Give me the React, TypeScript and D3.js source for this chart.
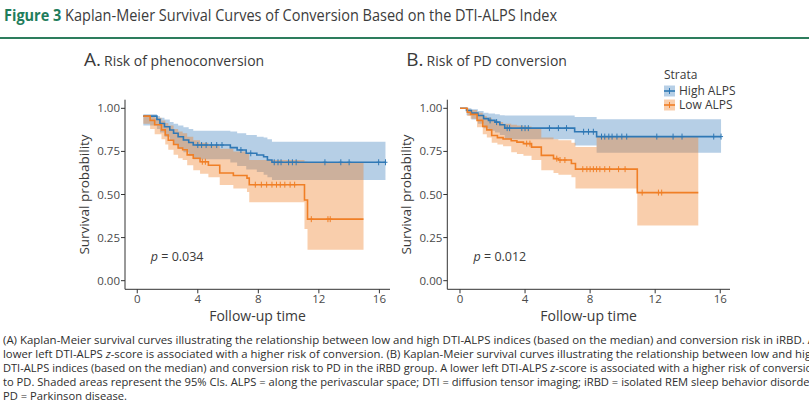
import * as d3 from "d3";

// ---- shared axis ticks ----
const ticksX = [0, 4, 8, 12, 16];
const ticksY = [0, 0.25, 0.5, 0.75, 1];
const tickYLabels = ["0.00", "0.25", "0.50", "0.75", "1.00"];

// ---- panel A: phenoconversion ----
const aHighTime = [0.4, 1.3, 1.5, 1.8, 2.15, 2.4, 2.7, 3.05, 3.4, 3.7, 6.15, 6.6, 7.2, 7.9, 8.35, 8.6, 8.9];
const aHighSurv = [0.955, 0.935, 0.912, 0.893, 0.874, 0.855, 0.835, 0.816, 0.802, 0.787, 0.772, 0.758, 0.739, 0.729, 0.719, 0.7, 0.687];
const aHighLower = [0.9, 0.88, 0.86, 0.835, 0.81, 0.79, 0.765, 0.745, 0.725, 0.705, 0.685, 0.665, 0.645, 0.63, 0.615, 0.6, 0.584];
const aHighUpper = [0.965, 0.955, 0.945, 0.935, 0.92, 0.91, 0.9, 0.89, 0.88, 0.87, 0.865, 0.855, 0.845, 0.835, 0.83, 0.82, 0.806];
const aHighEnd = 16.4;
const aHighCensor = [4.0, 4.25, 4.55, 4.9, 5.25, 5.6, 6.85, 7.5, 9.05, 9.3, 9.5, 10.0, 10.25, 10.5, 12.4, 13.45, 14.0, 15.95, 16.4];

const aLowTime = [0.4, 0.85, 1.15, 1.6, 1.85, 2.05, 2.4, 2.7, 3.0, 3.3, 3.7, 4.15, 4.7, 5.45, 6.35, 7.25, 7.4, 11.05, 11.25];
const aLowSurv = [0.955, 0.93, 0.905, 0.875, 0.845, 0.815, 0.79, 0.77, 0.76, 0.73, 0.71, 0.69, 0.67, 0.625, 0.61, 0.595, 0.557, 0.468, 0.357];
const aLowLower = [0.91, 0.88, 0.85, 0.82, 0.79, 0.76, 0.73, 0.71, 0.7, 0.67, 0.64, 0.62, 0.6, 0.555, 0.535, 0.515, 0.455, 0.3, 0.18];
const aLowUpper = [0.96, 0.955, 0.945, 0.93, 0.915, 0.9, 0.88, 0.865, 0.855, 0.835, 0.815, 0.8, 0.785, 0.765, 0.75, 0.735, 0.7, 0.69, 0.685];
const aLowEnd = 14.95;
const aLowCensor = [4.3, 4.5, 7.8, 8.2, 8.55, 8.9, 9.2, 9.45, 9.75, 10.1, 10.4, 11.5, 12.6, 12.75];

// ---- panel B: PD conversion ----
const bHighTime = [0, 0.4, 0.7, 1.1, 1.45, 1.75, 2.15, 2.45, 2.75, 7.05, 8.4];
const bHighSurv = [1.0, 0.987, 0.972, 0.958, 0.94, 0.93, 0.92, 0.905, 0.885, 0.864, 0.836];
const bHighLower = [1.0, 0.96, 0.935, 0.91, 0.885, 0.87, 0.86, 0.845, 0.82, 0.785, 0.742];
const bHighUpper = [1.0, 1.0, 0.995, 0.985, 0.975, 0.97, 0.965, 0.96, 0.958, 0.95, 0.937];
const bHighEnd = 16.05;
const bHighCensor = [1.85, 2.25, 2.9, 3.05, 3.8, 4.0, 4.2, 5.5, 6.05, 6.55, 7.6, 7.9, 8.2, 8.7, 8.9, 9.15, 9.35, 9.65, 9.95, 10.25, 12.1, 13.1, 13.65, 15.6, 16.05];

const bLowTime = [0, 0.45, 0.65, 1.05, 1.4, 1.65, 1.95, 2.3, 2.65, 3.15, 3.5, 3.9, 4.4, 5.0, 5.75, 6.05, 6.85, 7.1, 8.4, 10.9];
const bLowSurv = [1.0, 0.977, 0.965, 0.93, 0.895, 0.875, 0.842, 0.83, 0.822, 0.812, 0.804, 0.795, 0.775, 0.727, 0.708, 0.7, 0.68, 0.647, 0.647, 0.511];
const bLowLower = [1.0, 0.955, 0.94, 0.89, 0.85, 0.83, 0.8, 0.79, 0.78, 0.745, 0.735, 0.725, 0.7, 0.64, 0.625, 0.615, 0.6, 0.535, 0.535, 0.32];
const bLowUpper = [1.0, 0.995, 0.99, 0.975, 0.955, 0.945, 0.93, 0.92, 0.91, 0.905, 0.9, 0.895, 0.88, 0.83, 0.82, 0.815, 0.8, 0.775, 0.833, 0.833];
const bLowEnd = 14.65;
const bLowCensor = [4.1, 4.3, 5.95, 6.15, 6.45, 7.55, 7.8, 8.0, 8.2, 8.4, 8.6, 8.9, 9.2, 9.75, 10.15, 11.2, 12.2, 12.4];

const strata = ["High ALPS", "Low ALPS"];
const lineColors = ["#2f78b5", "#f07f26"];
const fillColors = ["rgba(46,117,182,0.35)", "rgba(240,127,38,0.38)"];

const captionLines = [
  "(A) Kaplan-Meier survival curves illustrating the relationship between low and high DTI-ALPS indices (based on the median) and conversion risk in iRBD. A",
  "lower left DTI-ALPS |z|-score is associated with a higher risk of conversion. (B) Kaplan-Meier survival curves illustrating the relationship between low and high",
  "DTI-ALPS indices (based on the median) and conversion risk to PD in the iRBD group. A lower left DTI-ALPS |z|-score is associated with a higher risk of conversion",
  "to PD. Shaded areas represent the 95% CIs. ALPS = along the perivascular space; DTI = diffusion tensor imaging; iRBD = isolated REM sleep behavior disorder;",
  "PD = Parkinson disease.",
];
const captionWidths = [812, 815, 816, 814, 124];

type Series = {
  time: number[];
  surv: number[];
  lower: number[];
  upper: number[];
  end: number;
  censor: number[];
};

const panelA: Series[] = [
  { time: aHighTime, surv: aHighSurv, lower: aHighLower, upper: aHighUpper, end: aHighEnd, censor: aHighCensor },
  { time: aLowTime, surv: aLowSurv, lower: aLowLower, upper: aLowUpper, end: aLowEnd, censor: aLowCensor },
];
const panelB: Series[] = [
  { time: bHighTime, surv: bHighSurv, lower: bHighLower, upper: bHighUpper, end: bHighEnd, censor: bHighCensor },
  { time: bLowTime, surv: bLowSurv, lower: bLowLower, upper: bLowUpper, end: bLowEnd, censor: bLowCensor },
];

const FONT = "'Open Sans', sans-serif";
const AXIS = "#333333";
const TXT = "#3a3a3a";

type Pt = { t: number; s: number; lo: number; hi: number };

function toPoints(d: Series): Pt[] {
  const pts = d.time.map((t, i) => ({ t, s: d.surv[i], lo: d.lower[i], hi: d.upper[i] }));
  const last = pts[pts.length - 1];
  pts.push({ ...last, t: d.end });
  return pts;
}

function survAt(d: Series, t: number) {
  const i = d3.bisectRight(d.time, t) - 1;
  return d.surv[Math.max(0, i)];
}

function KMPanel(props: {
  left: number;
  right: number;
  xDomain: [number, number];
  letter: string;
  title: string;
  pValue: string;
  series: Series[];
  legend?: boolean;
}) {
  const { left, right, xDomain, letter, title, pValue, series, legend } = props;
  const top = 99.7;
  const bottom = 289.3;
  const x = d3.scaleLinear().domain(xDomain).range([left, right]);
  const y = d3.scaleLinear().domain([-0.05, 1.05]).range([bottom, top]);

  const area = d3
    .area<Pt>()
    .x((d) => x(d.t))
    .y0((d) => y(d.lo))
    .y1((d) => y(d.hi))
    .curve(d3.curveStepAfter);
  const line = d3
    .line<Pt>()
    .x((d) => x(d.t))
    .y((d) => y(d.s))
    .curve(d3.curveStepAfter);

  const mid = (left + right) / 2;
  const yMid = y(0.5);

  return (
    <g fontFamily={FONT}>
      <text x={left - 41} y={66} fill={TXT}>
        <tspan fontSize={19}>{letter}</tspan>
        <tspan fontSize={14} dx={3}>{title}</tspan>
      </text>

      {series.map((d, i) => (
        <path key={`r${i}`} d={area(toPoints(d)) ?? ""} fill={fillColors[i]} stroke="none" />
      ))}
      {series.map((d, i) => (
        <path key={`l${i}`} d={line(toPoints(d)) ?? ""} fill="none" stroke={lineColors[i]} strokeWidth={1.6} />
      ))}
      {series.map((d, i) =>
        d.censor.map((c, j) => {
          const cx = x(c);
          const cy = y(survAt(d, c));
          return (
            <g key={`c${i}-${j}`} stroke={lineColors[i]} strokeWidth={1}>
              <line x1={cx} x2={cx} y1={cy - 3} y2={cy + 3} />
              <line x1={cx - 2} x2={cx + 2} y1={cy} y2={cy} />
            </g>
          );
        })
      )}

      {/* axes */}
      <line x1={left} x2={left} y1={top} y2={bottom} stroke={AXIS} strokeWidth={1} />
      <line x1={left} x2={right} y1={bottom} y2={bottom} stroke={AXIS} strokeWidth={1} />
      {ticksY.map((v, i) => (
        <g key={`yt${i}`}>
          <line x1={left - 4} x2={left} y1={y(v)} y2={y(v)} stroke={AXIS} />
          <text x={left - 5} y={y(v) + 4} textAnchor="end" fontSize={11.5} fill="#4a4a4a">
            {tickYLabels[i]}
          </text>
        </g>
      ))}
      {ticksX.map((v) => (
        <g key={`xt${v}`}>
          <line x1={x(v)} x2={x(v)} y1={bottom} y2={bottom + 4} stroke={AXIS} />
          <text x={x(v)} y={bottom + 14} textAnchor="middle" fontSize={11.5} fill="#4a4a4a">
            {v}
          </text>
        </g>
      ))}

      <text x={mid} y={321} textAnchor="middle" fontSize={14} fill={TXT}>
        Follow-up time
      </text>
      <text
        transform={`translate(${left - 36},${yMid}) rotate(-90)`}
        textAnchor="middle"
        fontSize={13.5}
        fill={TXT}
      >
        Survival probability
      </text>

      <text x={x(0) + 13.5} y={260.5} fontSize={12.5} fill={TXT}>
        <tspan fontStyle="italic">p</tspan> = {pValue}
      </text>

      {legend && (
        <g>
          <text x={664} y={79} fontSize={12} fill={TXT}>
            Strata
          </text>
          {strata.map((s, i) => {
            const cy = 91 + i * 14;
            return (
              <g key={s}>
                <rect x={664} y={cy - 5.5} width={11} height={11} fill={fillColors[i]} />
                <line x1={664} x2={675} y1={cy} y2={cy} stroke={lineColors[i]} strokeWidth={1.6} />
                <line x1={669.5} x2={669.5} y1={cy - 3} y2={cy + 3} stroke={lineColors[i]} />
                <text x={679} y={cy + 4.2} fontSize={12} fill={TXT}>
                  {s}
                </text>
              </g>
            );
          })}
        </g>
      )}
    </g>
  );
}

function CaptionLine({ text, y, width }: { text: string; y: number; width: number }) {
  // "|z|" marks the italic z in z-score
  const parts = text.split("|");
  return (
    <text x={3} y={y} fontSize={11} fill="#2e2e2e" textLength={width} lengthAdjust="spacingAndGlyphs">
      {parts.map((p, i) =>
        i % 2 === 1 ? (
          <tspan key={i} fontStyle="italic">
            {p}
          </tspan>
        ) : (
          <tspan key={i}>{p}</tspan>
        )
      )}
    </text>
  );
}

export default function App() {
  return (
    <svg
      width={809}
      height={400}
      viewBox="0 0 809 400"
      style={{ position: "absolute", left: 0, top: 0, background: "#fff" }}
    >
      <rect width={809} height={400} fill="#fff" />
      <text x={4} y={21} fontFamily={FONT} fontSize={16} textLength={553} lengthAdjust="spacingAndGlyphs">
        <tspan fill="#1f7d5c" fontWeight={700}>
          Figure 3
        </tspan>
        <tspan fill="#3c3c3c"> Kaplan-Meier Survival Curves of Conversion Based on the DTI-ALPS Index</tspan>
      </text>
      <line x1={0} x2={809} y1={38} y2={38} stroke="#2d7d5d" strokeWidth={2} />

      <KMPanel
        left={125}
        right={390}
        xDomain={[-0.81, 16.7]}
        letter="A."
        title="Risk of phenoconversion"
        pValue="0.034"
        series={panelA}
      />
      <KMPanel
        left={447.3}
        right={730}
        xDomain={[-0.78, 16.6]}
        letter="B."
        title="Risk of PD conversion"
        pValue="0.012"
        series={panelB}
        legend
      />

      <g fontFamily={FONT}>
        {captionLines.map((t, i) => (
          <CaptionLine key={i} text={t} y={344 + i * 14} width={captionWidths[i]} />
        ))}
      </g>
    </svg>
  );
}
